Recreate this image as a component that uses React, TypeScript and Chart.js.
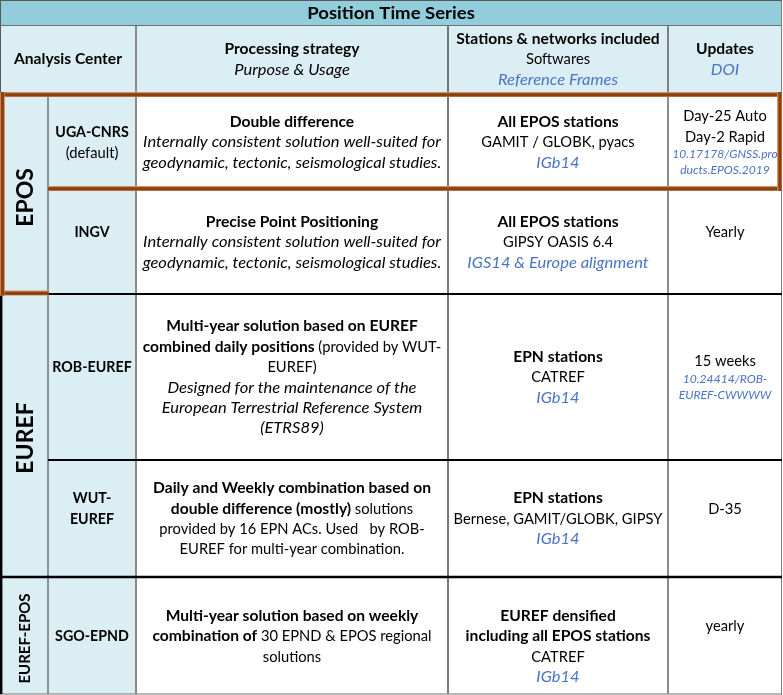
import React, { useEffect, useRef } from 'react';
import { Chart, registerables } from 'chart.js';
Chart.register(...registerables);

// ---------- DATA ----------
type Seg = [string, string]; // [style, text]  b=bold bc=bold caps n=normal i=italic ib=italic blue s=small italic blue
type Line = Seg[];

const TITLE = 'Position Time Series';

const HEADERS: Line[][] = [
  [[['b', 'Analysis Center']]],
  [[['b', 'Processing strategy']], [['i', 'Purpose & Usage']]],
  [[['b', 'Stations & networks included']], [['n', 'Softwares']], [['ib', 'Reference Frames']]],
  [[['b', 'Updates']], [['ib', 'DOI']]],
];

const GROUPS = ['EPOS', 'EUREF', 'EUREF-EPOS'];
const GROUP_ROWS = [[0, 1], [2, 3], [4, 4]];

const CENTERS: Line[][] = [
  [[['bc', 'UGA-CNRS']], [['n', '(default)']]],
  [[['bc', 'INGV']], []],
  [[['bc', 'ROB-EUREF']], []],
  [[['bc', 'WUT-']], [['bc', 'EUREF']], []],
  [[['bc', 'SGO-EPND']]],
];

const STRATEGIES: Line[][] = [
  [
    [['b', 'Double difference']],
    [['i', 'Internally consistent solution well-suited for']],
    [['i', 'geodynamic, tectonic, seismological studies.']],
  ],
  [
    [['b', 'Precise Point Positioning']],
    [['i', 'Internally consistent solution well-suited for']],
    [['i', 'geodynamic, tectonic, seismological studies.']],
  ],
  [
    [['b', 'Multi-year solution based on EUREF']],
    [['b', 'combined daily positions'], ['n', ' (provided by WUT-']],
    [['n', 'EUREF)']],
    [['i', 'Designed for the maintenance of the']],
    [['i', 'European Terrestrial Reference System']],
    [['i', '(ETRS89)']],
  ],
  [
    [['b', 'Daily and Weekly combination based on']],
    [['b', 'double difference (mostly)'], ['n', ' solutions']],
    [['n', 'provided by 16 EPN ACs. Used   by ROB-']],
    [['n', 'EUREF for multi-year combination.']],
  ],
  [
    [['b', 'Multi-year solution based on weekly']],
    [['b', 'combination of'], ['n', ' 30 EPND & EPOS regional']],
    [['n', 'solutions']],
  ],
];

const STATIONS: Line[][] = [
  [[['b', 'All EPOS stations']], [['n', 'GAMIT / GLOBK, pyacs']], [['ib', 'IGb14']]],
  [[['b', 'All EPOS stations']], [['n', 'GIPSY OASIS 6.4']], [['ib', 'IGS14 & Europe alignment']]],
  [[['b', 'EPN stations']], [['n', 'CATREF']], [['ib', 'IGb14']]],
  [[['b', 'EPN stations']], [['n', 'Bernese, GAMIT/GLOBK, GIPSY']], [['ib', 'IGb14']]],
  [[], [['b', 'EUREF densified']], [['b', 'including all EPOS stations']], [['n', 'CATREF']], [['ib', 'IGb14']]],
];

const UPDATES: Line[][] = [
  [[['n', 'Day-25 Auto']], [['n', 'Day-2 Rapid']], [['s', '10.17178/GNSS.pro']], [['s', 'ducts.EPOS.2019']]],
  [[['n', 'Yearly']], []],
  [[['n', '15 weeks']], [['s', '10.24414/ROB-']], [['s', 'EUREF-CWWWW']]],
  [[['n', 'D-35']], []],
  [[['n', 'yearly']], []],
];

// ---------- LAYOUT / STYLE ----------
const W = 783;
const H = 695;
const COL = [0, 48, 136, 448, 668, 782];
const TITLE_Y = [0, 25];
const HEAD_Y = [25, 93];
const ROW_Y = [[97, 187], [191, 293], [295, 459], [461, 576], [578, 694]];
const GROUP_SHIFT = 2.5;
const FONT = 'Lato, "Open Sans", sans-serif';
const LINE_H = 20.4;
const SMALL_H = 16;
const BLUE = '#4A74C6';
const TEXT = '#000000';
const TITLE_BG = '#92CDDC';
const LIGHT_BG = '#DAEEF3';
const BROWN = '#8A4212';
const BROWN_LIGHT = '#D08C5A';

function fontFor(style: string): string {
  switch (style) {
    case 'b':
    case 'bc': return `bold 15px ${FONT}`;
    case 'i':
    case 'ib': return `italic 15px ${FONT}`;
    case 's': return `italic 11px ${FONT}`;
    default: return `15px ${FONT}`;
  }
}
function stretchFor(style: string): number {
  switch (style) {
    case 'b': return 1.04;
    case 'bc': return 0.95;
    case 'i':
    case 'ib':
    case 's': return 1.1;
    default: return 0.98;
  }
}
function colorFor(style: string): string {
  return style === 'ib' || style === 's' ? BLUE : TEXT;
}
function lineHeight(line: Line): number {
  return line.length && line.every((s) => s[0] === 's') ? SMALL_H : LINE_H;
}

const tablePlugin = {
  id: 'tablePlugin',
  afterDraw(chart: any) {
    const ctx: CanvasRenderingContext2D = chart.ctx;
    const xs = chart.scales.x;
    const ys = chart.scales.y;
    const X = (v: number) => xs.getPixelForValue(v);
    const Y = (v: number) => ys.getPixelForValue(v);

    const rect = (x0: number, y0: number, x1: number, y1: number, c: string) => {
      ctx.fillStyle = c;
      ctx.fillRect(X(x0), Y(y0), X(x1) - X(x0), Y(y1) - Y(y0));
    };
    const hLine = (x0: number, x1: number, y: number, w: number, c: string) => rect(x0, y - w / 2, x1, y + w / 2, c);
    const vLine = (x: number, y0: number, y1: number, w: number, c: string) => rect(x - w / 2, y0, x + w / 2, y1, c);
    const brownH = (x0: number, x1: number, y: number) => {
      hLine(x0, x1, y, 5, BROWN_LIGHT);
      hLine(x0, x1, y + 0.3, 3.2, BROWN);
    };
    const brownV = (x: number, y0: number, y1: number) => {
      vLine(x, y0, y1, 5, BROWN_LIGHT);
      vLine(x + 0.3, y0, y1, 3.2, BROWN);
    };

    ctx.save();
    // backgrounds
    rect(0, 0, W, H, '#FFFFFF');
    rect(0, TITLE_Y[0], COL[5], TITLE_Y[1], TITLE_BG);
    rect(0, HEAD_Y[0], COL[5], HEAD_Y[1] + 2, LIGHT_BG);
    rect(0, HEAD_Y[1], COL[2], H - 1, LIGHT_BG);

    // grid lines
    vLine(COL[2], HEAD_Y[0], H - 1, 2, '#8A8A8A');
    vLine(COL[3], HEAD_Y[0], H - 1, 1.5, '#4D4D4D');
    vLine(COL[4], HEAD_Y[0], H - 1, 1, '#1A1A1A');
    vLine(COL[1], HEAD_Y[1], H - 1, 1, '#3A3A3A');
    vLine(COL[5] - 0.5, 0, H, 1, '#7F7F7F');
    vLine(0.5, 0, HEAD_Y[1], 1, '#595959');
    hLine(0, COL[5], 0.5, 1, '#595959');
    hLine(0, COL[5], TITLE_Y[1] + 0.5, 1, '#707070');
    hLine(0, COL[5], H - 1, 1.2, '#8A8A8A');

    // black separators
    hLine(COL[1], COL[5], 294, 2, '#000000');
    hLine(COL[1], COL[5], 460, 2, '#000000');
    hLine(0, COL[5], 577, 2.5, '#000000');
    vLine(1.2, 294, H - 1, 2.4, '#000000');

    // brown boxes (EPOS)
    brownH(0, COL[5], 94.5);
    brownH(COL[1], COL[5], 188.5);
    brownH(0, COL[1] + 1, 293);
    brownV(2.2, 92, 295.5);
    brownV(779.6, 92, 191);

    // text
    ctx.textBaseline = 'middle';
    ctx.textAlign = 'left';
    const drawText = (text: string, font: string, color: string, sx: number, px: number, py: number) => {
      ctx.save();
      ctx.font = font;
      ctx.fillStyle = color;
      ctx.translate(px, py);
      ctx.scale(sx, 1);
      ctx.fillText(text, 0, 0);
      ctx.restore();
    };
    const drawLine = (line: Line, cx: number, cy: number) => {
      let total = 0;
      const widths = line.map((s) => {
        ctx.font = fontFor(s[0]);
        const w = ctx.measureText(s[1]).width * stretchFor(s[0]);
        total += w;
        return w;
      });
      let x = X(cx) - total / 2;
      line.forEach((s, i) => {
        drawText(s[1], fontFor(s[0]), colorFor(s[0]), stretchFor(s[0]), x, Y(cy));
        x += widths[i];
      });
    };
    const drawCell = (lines: Line[], x0: number, x1: number, y0: number, y1: number) => {
      const total = lines.reduce((a, l) => a + lineHeight(l), 0);
      let y = (y0 + y1) / 2 - total / 2;
      for (const l of lines) {
        const h = lineHeight(l);
        drawLine(l, (x0 + x1) / 2, y + h / 2 + 0.5);
        y += h;
      }
    };

    // title
    {
      const f = `bold 17.5px ${FONT}`;
      ctx.font = f;
      const sx = 1.06;
      const w = ctx.measureText(TITLE).width * sx;
      drawText(TITLE, f, TEXT, sx, X((COL[0] + COL[5]) / 2) - w / 2, Y(13.5));
    }

    // header
    drawCell(HEADERS[0], COL[0], COL[2], HEAD_Y[0], HEAD_Y[1]);
    drawCell(HEADERS[1], COL[2], COL[3], HEAD_Y[0], HEAD_Y[1]);
    drawCell(HEADERS[2], COL[3], COL[4], HEAD_Y[0], HEAD_Y[1]);
    drawCell(HEADERS[3], COL[4], COL[5], HEAD_Y[0], HEAD_Y[1]);

    // body
    for (let r = 0; r < CENTERS.length; r++) {
      const [y0, y1] = ROW_Y[r];
      drawCell(CENTERS[r], COL[1], COL[2], y0, y1);
      drawCell(STRATEGIES[r], COL[2], COL[3], y0, y1);
      drawCell(STATIONS[r], COL[3], COL[4], y0, y1);
      drawCell(UPDATES[r], COL[4], COL[5], y0, y1);
    }

    // rotated group labels
    GROUPS.forEach((g, i) => {
      const [ra, rb] = GROUP_ROWS[i];
      const cy = (ROW_Y[ra][0] + ROW_Y[rb][1]) / 2 + GROUP_SHIFT;
      const cx = (COL[0] + COL[1]) / 2 + 1.5;
      ctx.save();
      ctx.translate(X(cx), Y(cy));
      ctx.rotate(-Math.PI / 2);
      ctx.font = g.length > 6 ? `bold 15px ${FONT}` : `bold 23px ${FONT}`;
      ctx.fillStyle = TEXT;
      ctx.textAlign = 'center';
      ctx.textBaseline = 'middle';
      ctx.fillText(g, 0, 0);
      ctx.restore();
    });
    ctx.restore();
  },
};

export default function App() {
  const ref = useRef<HTMLCanvasElement | null>(null);
  useEffect(() => {
    if (!ref.current) return;
    const chart = new Chart(ref.current, {
      type: 'scatter',
      data: { datasets: [] },
      options: {
        responsive: false,
        maintainAspectRatio: false,
        animation: false,
        layout: { padding: 0 },
        plugins: { legend: { display: false }, tooltip: { enabled: false } },
        scales: {
          x: { type: 'linear', min: 0, max: W, display: false },
          y: { type: 'linear', min: 0, max: H, reverse: true, display: false },
        },
      },
      plugins: [tablePlugin],
    });
    return () => chart.destroy();
  }, []);
  return (
    <div style={{ position: 'fixed', left: 0, top: 0, width: W, height: H, background: '#fff' }}>
      <canvas ref={ref} width={W} height={H} style={{ display: 'block' }} />
    </div>
  );
}
